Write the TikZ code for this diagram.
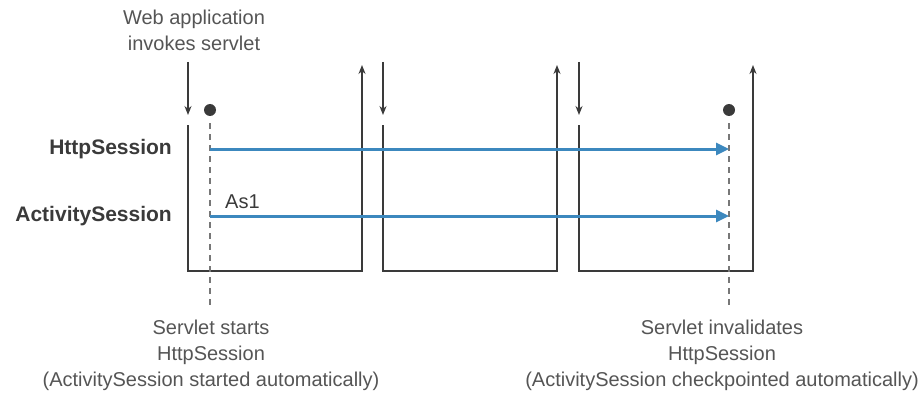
\documentclass[tikz,border=0pt]{standalone}
\usepackage{fontspec}
\setmainfont{Liberation Sans}
\usetikzlibrary{arrows.meta}

\definecolor{linegray}{HTML}{3A3A3A}
\definecolor{textgray}{HTML}{555555}
\definecolor{sessblue}{HTML}{3C88BE}

\tikzset{
	lifeline/.style={draw=linegray,line width=1.4pt},
	sessarrow/.style={draw=sessblue,line width=3pt,-{Triangle[length=13pt,width=12pt]}},
	guide/.style={draw=textgray!80,line width=1.2pt,dash pattern=on 6pt off 5pt},
	caption/.style={text=textgray,font=\fontsize{20}{26}\selectfont,align=center,inner sep=0pt},
	rowlabel/.style={text=linegray,font=\fontsize{21}{25}\selectfont\bfseries,anchor=east,inner sep=0pt},
}

\begin{document}
\begin{tikzpicture}[x=1pt,y=-1pt,>={Stealth[length=9pt,width=7pt]}]
	\useasboundingbox (0,0) rectangle (919,396);
	
	\node[caption] (invoke) at (194,30) {Web application\\invokes servlet};
	
	% one box for each servlet call
	\foreach \l/\r in {188/362,383/557,579/753} {
		\draw[lifeline,->] (\l,62) -- (\l,115);
		\draw[lifeline,->] (\l,125) -- (\l,271) -- (\r,271) -- (\r,65);
	}
	
	\coordinate (start) at (210,110);
	\coordinate (stop) at (729,110);
	\foreach \p in {start,stop} {
		\fill[linegray] (\p) circle (6pt);
		\draw[guide] (\p) ++(0,13) -- ++(0,184);
	}
	
	\node[rowlabel] (httplbl) at (172,149) {HttpSession};
	\node[rowlabel] (actlbl) at (172,216) {ActivitySession};
	\node[caption,anchor=west,text=linegray] (as1) at (225,202) {As1};
	
	\draw[sessarrow] (start |- httplbl.east) -- (stop |- httplbl.east);
	\draw[sessarrow] (start |- actlbl.east) -- (stop |- actlbl.east);
	
	\node[caption] (startnote) at (211,355) {Servlet starts\\HttpSession\\(ActivitySession started automatically)};
	\node[caption] (stopnote) at (722,355) {Servlet invalidates\\HttpSession\\(ActivitySession checkpointed automatically)};
\end{tikzpicture}
\end{document}
